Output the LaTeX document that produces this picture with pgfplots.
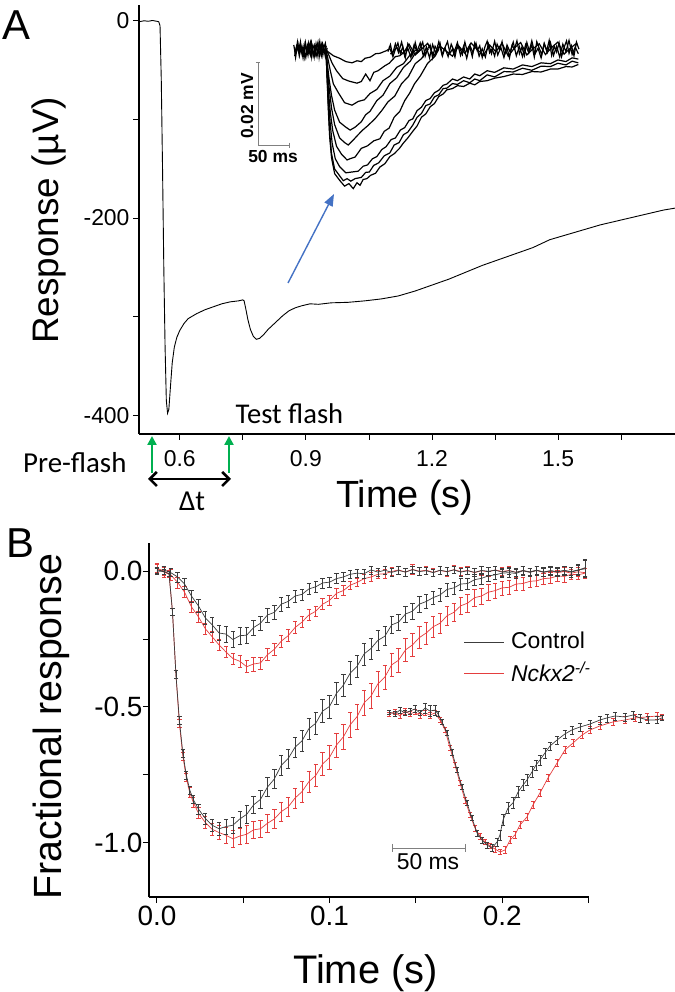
\documentclass[border=0pt]{standalone}
\usepackage{fontspec}
\setmainfont{Liberation Sans}
\newfontfamily\calfont{Carlito}
\usepackage{pgfplots}
\pgfplotsset{compat=1.18}
\usetikzlibrary{arrows.meta}
\definecolor{ctrl}{RGB}{60,60,60}
\definecolor{mred}{RGB}{228,62,62}
\definecolor{fgreen}{RGB}{0,176,80}
\definecolor{abl}{RGB}{68,114,196}
\newcommand{\fsz}[1]{\fontsize{#1}{#1}\selectfont}
\pgfplotsset{
 ebar/.style={line width=0.7bp, #1, error bars/.cd, y dir=both, y explicit,
   error bar style={#1, line width=0.55bp},
   error mark options={#1, rotate=90, mark size=2.2bp, line width=0.55bp}},
 myaxis/.style={scale only axis, axis x line*=bottom, axis y line*=left,
   axis line style={-, line width=1.2bp}, tick align=outside,
   major tick length=6bp, minor tick length=6bp,
   tick style={black, line width=0.9bp},
   /pgf/number format/assume math mode=true},
 inset/.style={scale only axis, hide axis, clip=false},
}
\begin{document}
\begin{tikzpicture}
\useasboundingbox (0,0) rectangle (675bp,992bp);
% ================= Panel A =================
\begin{axis}[myaxis,
  at={(139bp,558bp)}, anchor=south west, width=536bp, height=429bp,
  xmin=0.503, xmax=1.778, ymin=-419, ymax=16,
  xtick={0.6,0.9,1.2,1.5}, xticklabels={0.6,0.9,1.2,1.5},
  minor xtick={0.75,1.05,1.35,1.65},
  ytick={-400,-200,0}, yticklabels={-400,-200,0},
  minor ytick={-300,-100},
  ticklabel style={font=\fsz{23}},
  xticklabel style={yshift=-7bp},
  xlabel={Time (s)}, ylabel={Response (µV)},
  xlabel style={at={(axis description cs:0.496,-0.1725)}, anchor=base, font=\fsz{38}},
  ylabel style={at={(axis description cs:-0.150,0.498)}, anchor=base, font=\fsz{37}},
]
\addplot[black, line width=0.9bp] coordinates {
(0.503,-1) (0.515,0) (0.525,-0.5) (0.535,0.3) (0.545,-0.5) (0.550,-1) (0.553,-5) (0.556,-60)
(0.559,-150) (0.562,-250) (0.565,-330) (0.568,-385) (0.571,-398) (0.574,-394) (0.578,-370)
(0.582,-347) (0.587,-331) (0.593,-321) (0.600,-314) (0.610,-307) (0.620,-302) (0.640,-297)
(0.660,-293) (0.680,-290) (0.700,-287) (0.720,-285) (0.740,-284) (0.750,-283) (0.753,-284)
(0.757,-292) (0.762,-303) (0.768,-313) (0.775,-320) (0.782,-323) (0.790,-322) (0.800,-318)
(0.810,-313) (0.820,-309) (0.830,-305) (0.845,-299) (0.860,-294) (0.875,-291) (0.890,-289)
(0.910,-287) (0.930,-287.5) (0.960,-286) (1.000,-285.5) (1.040,-284) (1.080,-282) (1.120,-279)
(1.160,-274) (1.200,-268) (1.240,-262) (1.280,-255) (1.320,-248) (1.360,-242) (1.400,-236)
(1.440,-230) (1.480,-222) (1.520,-217) (1.560,-212) (1.600,-207) (1.640,-203) (1.680,-199)
(1.720,-195) (1.750,-192) (1.778,-190)
};
\end{axis}
% ---- Inset of panel A (x in ms, y in microvolts) ----
\begin{axis}[inset, at={(290bp,797bp)}, anchor=south west, width=290bp, height=160bp,
  xmin=0, xmax=467.7, ymin=-34.94, ymax=3.61]
\addplot[black, line width=1.2bp] coordinates {
(6,1.2) (9,-0.8) (12,1.9) (15,-1.4) (18,0.6) (21,-1.9) (24,1.4) (27,-0.5) (30,1.7) (33,-1.2)
(36,0.9) (39,-1.7) (42,1.5) (45,-0.7) (48,2.0) (51,-1.3) (54,0.8) (57,-1.6) (60,0.5)};
\addplot[black, line width=1.2bp] coordinates {
(7.5,-1.5) (10.5,0.9) (13.5,-0.4) (16.5,1.6) (19.5,-1.1) (22.5,0.3) (25.5,-1.8) (28.5,1.1)
(31.5,-0.6) (34.5,1.8) (37.5,-1.4) (40.5,0.2) (43.5,-1.6) (46.5,1.2) (49.5,-0.9) (52.5,1.5)
(55.5,-0.5) (58.5,1.0)};
\addplot[black, line width=1.2bp] coordinates {
(7,0.6) (9,-1.8) (11,0.2) (13,1.4) (15,-0.9) (17,1.8) (19,-0.3) (21,0.9) (23,-1.5) (25,1.7)
(27,0.1) (29,-1.3) (31,1.0) (33,1.9) (35,-1.6) (37,0.4) (39,1.2) (41,-1.0) (43,0.6) (45,1.8)
(47,-1.7) (49,0.3) (51,1.4) (53,-1.2) (55,0.7) (57,1.6) (59,-0.8)};
\addplot[black, line width=1.2bp] coordinates {
(160,0.8) (165,-1.2) (170,1.5) (175,-0.6) (180,1.9) (185,-1.5) (190,0.4) (195,-1.8) (200,1.2)
(205,-0.3) (210,1.7) (215,-1.4) (220,0.7) (225,-1.9) (230,1.3) (235,-0.8) (240,2.0) (245,-1.1)
(250,0.5) (255,-1.6) (260,1.4) (265,-0.4) (270,1.8) (275,-1.3) (280,0.9) (285,-2.0) (290,1.1)
(295,-0.6) (300,1.6) (305,-1.5) (310,0.3) (315,-1.7) (320,1.5) (325,-0.9) (330,2.1) (335,-1.2)
(340,0.6) (345,-1.8) (350,1.2) (355,-0.5) (360,1.9) (365,-1.4) (370,0.8) (375,-1.6) (380,1.3)
(385,-0.7) (390,2.2) (395,-1.0) (400,0.4) (405,-1.9) (410,1.6) (415,-0.6) (420,1.8) (425,-1.3)
(430,0.9) (435,-1.7) (440,1.4) (445,-0.4) (450,2.3) (455,-1.1) (460,0.7) (465,-0.9)};
\addplot[black, line width=1.2bp] coordinates {
(162,-1.0) (172,0.6) (182,-0.9) (192,1.4) (202,-1.2) (212,0.2) (222,1.6) (232,-1.4) (242,0.9)
(252,-0.3) (262,-1.5) (272,1.0) (282,-0.8) (292,1.7) (302,0.1) (312,-1.3) (322,1.2) (332,-0.4)
(342,1.6) (352,-1.5) (362,0.5) (372,1.8) (382,-1.2) (392,0.3) (402,1.5) (412,-1.1) (422,0.6)
(432,1.9) (442,-1.0) (452,0.4) (462,1.6)};
\addplot[black, line width=1.2bp] coordinates {
(158,-0.4) (162,1.3) (166,-1.6) (170,0.2) (174,1.7) (178,-0.9) (182,0.8) (186,-1.8) (190,1.5)
(194,0.1) (198,-1.2) (202,1.8) (206,-0.6) (210,0.5) (214,1.9) (218,-1.5) (222,0.3) (226,1.2)
(230,-1.9) (234,0.9) (238,-0.2) (242,1.6) (246,-1.4) (250,0.6) (254,2.0) (258,-0.8) (262,0.2)
(266,-1.7) (270,1.3) (274,0.4) (278,-1.1) (282,1.9) (286,-0.5) (290,0.8) (294,-1.6) (298,1.7)
(302,-0.2) (306,1.0) (310,-1.8) (314,0.6) (318,2.1) (322,-0.7) (326,0.3) (330,-1.5) (334,1.4)
(338,0.0) (342,2.0) (346,-1.2) (350,0.5) (354,-1.9) (358,1.1) (362,0.2) (366,2.2) (370,-0.9)
(374,0.7) (378,-1.4) (382,1.8) (386,-0.3) (390,1.2) (394,-1.7) (398,2.0) (402,0.4) (406,-1.1)
(410,1.5) (414,-0.2) (418,2.3) (422,-1.3) (426,0.9) (430,-0.5) (434,1.7) (438,-1.6) (442,0.6)
(446,2.2) (450,-0.8) (454,1.0) (458,-1.4) (462,1.9) (466,0.2)};
% traces
\addplot[black, line width=1.2bp] coordinates {
(58,0) (62,-0.5) (70,-1.4) (80,-2) (90,-2.8) (100,-3.1) (108,-2.6) (115,-2.8) (121,-2.0)
(130,-1.7) (138,-0.9) (145,-0.8) (155,-0.2) (161,0.3)};
\addplot[black, line width=1.2bp] coordinates {
(58,0) (62,-1) (68,-3.2) (75,-5) (85,-6.9) (95,-7.5) (108,-8) (115,-7.6) (122,-5.8) (129,-7.4)
(135,-5.4) (142,-5.0) (153,-3.8) (160,-3.2) (170,-1.6) (177,-1.4) (189,0.2)};
\addplot[black, line width=1.2bp] coordinates {
(58,0) (61,-2) (65,-5) (70,-8.2) (78,-10.3) (88,-12.7) (100,-13.3) (110,-12.4) (120,-12.0)
(129,-10.5) (140,-9.5) (150,-7.4) (161,-6.3) (172,-4.2) (183,-3.3) (194,-1.1) (205,0.2)};
\addplot[black, line width=1.2bp] coordinates {
(58,0) (60,-3) (63,-7) (67,-11) (72,-14.5) (80,-17.4) (90,-18.6) (97,-19.3) (105,-18.6)
(115,-17.3) (122,-15.6) (129,-14.8) (140,-12.2) (150,-10.9) (161,-8.1) (172,-6.7) (183,-4.2)
(194,-2.7) (202,-0.8) (210,0)};
\addplot[black, line width=1.2bp] coordinates {
(58,0) (60,-4) (63,-9) (67,-14) (72,-18) (80,-21.2) (88,-22.3) (94,-22.9) (102,-21.7)
(110,-20.4) (118,-19.2) (125,-18.3) (137,-16.6) (148,-14.6) (158,-12.5) (169,-11.1) (180,-8.1)
(191,-6.4) (202,-3.3) (212,-2.1) (223,0.2)};
\addplot[black, line width=1.2bp] coordinates {
(58,0) (60,-5) (62,-10) (65,-15) (69,-19.5) (75,-23.2) (83,-25.1) (92,-26.5) (97,-26.2)
(105,-25.8) (115,-23.7) (125,-23.1) (135,-21.9) (145,-21.4) (152,-19.6) (160,-18.8) (168,-16.2)
(177,-14.8) (185,-12.2) (193,-10.4) (201,-8.1) (210,-6.3) (222,-3.2) (234,-1.5) (240,0.2)};
\addplot[black, line width=1.2bp] coordinates {
(58,0) (60,-6) (62,-12) (65,-18) (68,-22.5) (73,-26.2) (80,-28.1) (90,-29.6) (100,-29.4)
(110,-29.2) (118,-28.0) (125,-27.7) (133,-26.2) (140,-25.7) (148,-24.0) (155,-23.3) (163,-21.6)
(170,-21.2) (178,-19.3) (185,-18.7) (192,-17.0) (198,-16.6) (205,-14.6) (212,-13.8) (219,-12.2)
(226,-11.7) (233,-10.3) (240,-9.7) (247,-8.5) (253,-8.2) (262,-7.0) (270,-7.4) (280,-6.5)
(290,-7.0) (298,-5.8) (306,-6.2) (318,-5.0) (330,-5.4) (345,-4.3) (360,-4.6) (375,-3.6)
(390,-4.0) (405,-3.1) (420,-3.3) (432,-2.4) (445,-2.8) (455,-1.9) (465,-2.2)};
\addplot[black, line width=1.2bp] coordinates {
(58,0) (60,-7) (62,-14) (64,-20) (67,-25) (72,-28.7) (80,-30.3) (86,-31.5) (92,-31.0)
(98,-31.6) (105,-31.0) (115,-30.7) (122,-29.5) (128,-29.4) (135,-27.8) (143,-27.2) (152,-25.5)
(161,-24.8) (168,-22.9) (176,-22.3) (183,-20.4) (190,-19.8) (198,-18.1) (205,-16.2) (212,-15.3)
(219,-13.4) (226,-13.0) (233,-11.3) (240,-10.8) (247,-9.3) (253,-9.2) (262,-8.1) (270,-8.3)
(280,-7.4) (290,-7.9) (298,-7.0) (306,-7.4) (318,-6.0) (330,-6.5) (345,-5.2) (360,-5.3)
(375,-4.4) (390,-4.9) (405,-3.9) (420,-4.0) (432,-3.2) (445,-3.6) (455,-2.7) (465,-3.1)};
\addplot[black, line width=1.2bp] coordinates {
(58,0) (60,-7.5) (62,-15) (64,-21) (67,-26) (72,-29.8) (80,-31.4) (88,-32.8) (95,-32.2)
(102,-33.4) (108,-32.0) (113,-32.6) (118,-31.2) (124,-31.0) (130,-30.2) (138,-29.7) (145,-28.2)
(153,-27.4) (161,-25.7) (168,-25.0) (176,-23.8) (183,-22.4) (190,-21.2) (198,-19.6) (205,-18.3)
(212,-16.2) (219,-15.4) (226,-13.7) (233,-12.9) (240,-11.2) (247,-10.6) (253,-9.6) (262,-9.3)
(270,-8.6) (280,-8.8) (290,-8.0) (298,-8.4) (306,-7.6) (318,-7.4) (330,-6.8) (345,-6.4)
(360,-5.8) (375,-5.9) (390,-5.2) (405,-5.3) (420,-4.6) (432,-4.6) (445,-4.0) (455,-4.1) (465,-3.5)};
% scale bars
\draw[gray, line width=0.9bp] (axis cs:-51.6,-2.9) -- (axis cs:-51.6,-22.9) -- (axis cs:-1.6,-22.9);
\draw[gray, line width=0.9bp] (axis cs:-55,-2.9) -- (axis cs:-48.2,-2.9);
\draw[gray, line width=0.9bp] (axis cs:-1.6,-22.3) -- (axis cs:-1.6,-23.5);
\end{axis}
% ================= Panel B =================
\begin{axis}[myaxis,
  at={(149bp,95bp)}, anchor=south west, width=439.5bp, height=354bp,
  xmin=-0.0046, xmax=0.25, ymin=-1.199, ymax=0.103,
  xtick={0,0.1,0.2}, xticklabels={0.0,0.1,0.2}, minor xtick={0.05,0.15,0.25},
  ytick={-1,-0.5,0}, yticklabels={-1.0,-0.5,0.0}, minor ytick={-0.75,-0.25},
  ticklabel style={font=\fsz{28}},
  yticklabel style={xshift=3bp},
  xlabel={Time (s)}, ylabel={Fractional response},
  xlabel style={at={(axis description cs:0.4926,-0.243)}, anchor=base, font=\fsz{40}},
  ylabel style={at={(axis description cs:-0.198,0.4816)}, anchor=base, font=\fsz{39.5}},
]
% Nckx2 small
\addplot[ebar=mred] table[x index=0, y index=1, y error index=2] {
0.000 0.008 0.02
0.004 -0.004 0.02
0.008 -0.014 0.02
0.012 -0.042 0.02
0.016 -0.078 0.02
0.020 -0.132 0.02
0.024 -0.168 0.02
0.028 -0.212 0.02
0.032 -0.242 0.02
0.036 -0.272 0.02
0.040 -0.298 0.02
0.044 -0.322 0.02
0.048 -0.332 0.022
0.052 -0.352 0.022
0.056 -0.342 0.025
0.060 -0.338 0.022
0.064 -0.308 0.022
0.068 -0.288 0.022
0.072 -0.258 0.022
0.076 -0.238 0.022
0.080 -0.208 0.022
0.084 -0.188 0.02
0.088 -0.162 0.02
0.092 -0.148 0.02
0.096 -0.122 0.02
0.100 -0.108 0.018
0.104 -0.082 0.018
0.108 -0.072 0.018
0.112 -0.052 0.016
0.116 -0.042 0.016
0.120 -0.028 0.016
0.124 -0.022 0.016
0.128 -0.012 0.015
0.132 -0.010 0.015
0.136 -0.002 0.015
0.140 0.004 0.015
0.144 -0.004 0.015
0.148 0.006 0.018
0.152 -0.001 0.015
0.156 0.003 0.015
0.160 -0.005 0.015
0.164 0.002 0.015
0.168 -0.003 0.015
0.172 0.005 0.015
0.176 -0.002 0.015
0.180 0.002 0.015
0.184 -0.006 0.015
0.188 0.001 0.015
0.192 -0.003 0.015
0.196 0.004 0.015
0.200 -0.002 0.015
0.204 0.002 0.015
0.208 -0.005 0.015
0.212 0.001 0.015
0.216 -0.004 0.015
0.220 0.002 0.015
0.224 -0.005 0.015
0.228 -0.001 0.015
0.232 -0.006 0.015
0.236 -0.002 0.015
0.240 -0.008 0.015
0.244 -0.003 0.015
0.248 -0.006 0.015
};
% Nckx2 large
\addplot[ebar=mred] table[x index=0, y index=1, y error index=2] {
0.000 0.010 0.015
0.004 0.000 0.015
0.007 -0.010 0.012
0.009 -0.150 0.012
0.011 -0.380 0.015
0.013 -0.560 0.015
0.015 -0.680 0.015
0.017 -0.760 0.015
0.019 -0.815 0.018
0.021 -0.850 0.018
0.024 -0.890 0.02
0.028 -0.925 0.022
0.032 -0.950 0.022
0.036 -0.962 0.025
0.040 -0.972 0.028
0.044 -0.985 0.03
0.048 -0.975 0.03
0.052 -0.968 0.032
0.056 -0.952 0.032
0.060 -0.948 0.032
0.064 -0.928 0.034
0.068 -0.912 0.034
0.072 -0.885 0.035
0.076 -0.868 0.035
0.080 -0.835 0.036
0.084 -0.812 0.038
0.088 -0.775 0.04
0.092 -0.752 0.04
0.096 -0.710 0.042
0.100 -0.685 0.044
0.104 -0.640 0.045
0.108 -0.610 0.046
0.112 -0.565 0.046
0.116 -0.535 0.046
0.120 -0.485 0.046
0.124 -0.460 0.046
0.128 -0.415 0.045
0.132 -0.390 0.045
0.136 -0.345 0.044
0.140 -0.328 0.044
0.144 -0.290 0.042
0.148 -0.272 0.042
0.152 -0.245 0.04
0.156 -0.228 0.04
0.160 -0.205 0.038
0.164 -0.192 0.036
0.168 -0.165 0.035
0.172 -0.152 0.034
0.176 -0.128 0.032
0.180 -0.118 0.032
0.184 -0.098 0.03
0.188 -0.092 0.03
0.192 -0.078 0.028
0.196 -0.072 0.028
0.200 -0.062 0.026
0.204 -0.060 0.025
0.208 -0.048 0.024
0.212 -0.046 0.024
0.216 -0.038 0.022
0.220 -0.036 0.022
0.224 -0.028 0.02
0.228 -0.026 0.02
0.232 -0.018 0.02
0.236 -0.020 0.02
0.240 -0.012 0.018
0.244 -0.014 0.018
0.248 -0.008 0.018
};
% Control small
\addplot[ebar=ctrl] table[x index=0, y index=1, y error index=2] {
0.000 0.000 0.012
0.004 0.004 0.015
0.008 -0.006 0.015
0.012 -0.022 0.018
0.016 -0.048 0.02
0.020 -0.092 0.022
0.024 -0.128 0.025
0.028 -0.172 0.025
0.032 -0.198 0.028
0.036 -0.228 0.028
0.040 -0.232 0.03
0.044 -0.252 0.03
0.048 -0.238 0.03
0.052 -0.236 0.028
0.056 -0.208 0.028
0.060 -0.192 0.025
0.064 -0.162 0.025
0.068 -0.152 0.025
0.072 -0.122 0.025
0.076 -0.112 0.022
0.080 -0.092 0.022
0.084 -0.086 0.02
0.088 -0.066 0.02
0.092 -0.058 0.02
0.096 -0.044 0.018
0.100 -0.041 0.018
0.104 -0.028 0.018
0.108 -0.022 0.016
0.112 -0.012 0.016
0.116 -0.008 0.016
0.120 -0.010 0.015
0.124 0.004 0.015
0.128 -0.004 0.015
0.132 0.003 0.014
0.136 -0.005 0.014
0.140 0.002 0.014
0.144 -0.004 0.014
0.148 0.005 0.014
0.152 -0.002 0.014
0.156 0.001 0.014
0.160 -0.006 0.014
0.164 0.003 0.014
0.168 -0.002 0.014
0.172 0.004 0.014
0.176 -0.004 0.014
0.180 0.001 0.014
0.184 -0.005 0.014
0.188 0.002 0.014
0.192 -0.001 0.014
0.196 0.003 0.014
0.200 -0.004 0.014
0.204 0.001 0.014
0.208 -0.005 0.014
0.212 0.002 0.014
0.216 -0.003 0.014
0.220 0.003 0.014
0.224 -0.004 0.014
0.228 0.001 0.014
0.232 -0.003 0.014
0.236 0.002 0.014
0.240 -0.002 0.014
0.244 0.004 0.016
0.248 0.008 0.03
};
% Control large
\addplot[ebar=ctrl] table[x index=0, y index=1, y error index=2] {
0.000 0.000 0.01
0.004 -0.002 0.01
0.007 -0.010 0.01
0.009 -0.150 0.012
0.011 -0.380 0.015
0.013 -0.550 0.015
0.015 -0.670 0.015
0.017 -0.750 0.015
0.019 -0.805 0.015
0.021 -0.840 0.015
0.024 -0.875 0.018
0.028 -0.910 0.02
0.032 -0.935 0.022
0.036 -0.948 0.025
0.040 -0.940 0.028
0.044 -0.935 0.03
0.048 -0.912 0.03
0.052 -0.895 0.032
0.056 -0.860 0.032
0.060 -0.840 0.032
0.064 -0.795 0.035
0.068 -0.765 0.035
0.072 -0.715 0.036
0.076 -0.690 0.036
0.080 -0.648 0.038
0.084 -0.625 0.038
0.088 -0.580 0.04
0.092 -0.560 0.04
0.096 -0.515 0.042
0.100 -0.498 0.042
0.104 -0.450 0.042
0.108 -0.420 0.042
0.112 -0.375 0.042
0.116 -0.350 0.04
0.120 -0.305 0.04
0.124 -0.285 0.038
0.128 -0.255 0.036
0.132 -0.240 0.035
0.136 -0.198 0.032
0.140 -0.188 0.03
0.144 -0.158 0.03
0.148 -0.148 0.028
0.152 -0.122 0.028
0.156 -0.112 0.026
0.160 -0.098 0.025
0.164 -0.088 0.025
0.168 -0.068 0.024
0.172 -0.062 0.022
0.176 -0.048 0.022
0.180 -0.046 0.02
0.184 -0.032 0.02
0.188 -0.027 0.02
0.192 -0.018 0.018
0.196 -0.014 0.018
0.200 -0.008 0.016
0.204 -0.006 0.016
0.208 -0.009 0.016
0.212 0.001 0.016
0.216 -0.005 0.016
0.220 0.002 0.016
0.224 -0.004 0.016
0.228 0.001 0.016
0.232 -0.003 0.016
0.236 0.002 0.016
0.240 -0.004 0.018
0.244 0.003 0.02
0.248 0.012 0.03
};
\end{axis}
% ---- Inset of panel B (x in ms, fractional y) ----
\begin{axis}[inset, at={(389bp,135bp)}, anchor=south west, width=273bp, height=152bp,
  xmin=0, xmax=187, ymin=-1.0507, ymax=0.0507]
\addplot[ebar=mred] table[x index=0, y index=1, y error index=2] {
0 -0.014 0.015
4.1 0.000 0.02
7.5 -0.029 0.02
11 0.007 0.02
14.4 -0.014 0.02
17.8 0.000 0.02
21.2 -0.029 0.02
24.7 -0.007 0.02
28.1 -0.022 0.02
31.5 -0.007 0.02
34.9 -0.058 0.02
38.4 -0.130 0.02
41.8 -0.261 0.02
45.2 -0.384 0.02
48.6 -0.514 0.02
52.1 -0.638 0.02
55.5 -0.746 0.02
58.9 -0.841 0.02
62.3 -0.899 0.02
65.8 -0.942 0.02
69.2 -0.971 0.02
72.6 -0.993 0.02
76 -1.014 0.02
79.5 -1.000 0.025
82.9 -0.928 0.025
86.3 -0.891 0.025
89.7 -0.819 0.025
94.5 -0.761 0.025
98.6 -0.674 0.025
103.4 -0.587 0.025
108.9 -0.478 0.025
115.1 -0.370 0.025
120.5 -0.275 0.025
126 -0.225 0.025
132.2 -0.167 0.025
137.7 -0.130 0.025
144.5 -0.101 0.025
153.4 -0.072 0.025
161.6 -0.058 0.025
168.5 -0.043 0.025
176.7 -0.036 0.025
183.6 -0.029 0.025
187 -0.036 0.02
};
\addplot[ebar=ctrl] table[x index=0, y index=1, y error index=2] {
0 0.000 0.015
4.1 -0.014 0.02
7.5 0.014 0.02
11 -0.007 0.02
14.4 0.007 0.02
17.8 0.022 0.025
21.2 -0.007 0.02
24.7 0.029 0.035
28.1 0.007 0.04
31.5 0.014 0.035
33.6 -0.014 0.02
36.3 -0.072 0.02
39.7 -0.152 0.02
43.2 -0.290 0.02
46.6 -0.420 0.02
50 -0.543 0.02
53.4 -0.659 0.02
56.8 -0.768 0.02
60.3 -0.877 0.02
63.7 -0.928 0.02
67.1 -0.964 0.02
70.5 -0.986 0.025
74 -0.942 0.03
76 -0.891 0.035
78.1 -0.783 0.04
81.5 -0.696 0.04
84.9 -0.659 0.04
88.4 -0.580 0.04
91.8 -0.529 0.04
94.5 -0.493 0.04
97.9 -0.435 0.04
100.7 -0.384 0.035
103.4 -0.348 0.035
106.8 -0.297 0.035
110.3 -0.246 0.03
115.1 -0.203 0.03
120.5 -0.159 0.03
125.3 -0.130 0.03
130.8 -0.109 0.03
137.7 -0.087 0.03
144.5 -0.058 0.03
149.3 -0.043 0.03
154.8 -0.029 0.03
161.6 -0.036 0.03
167.1 -0.022 0.03
171.9 -0.043 0.03
177.4 -0.058 0.025
183.6 -0.058 0.025
187 -0.043 0.02
};
% 50 ms scale bar
\draw[gray, line width=0.9bp] (axis cs:2.05,-0.9855) -- (axis cs:52.05,-0.9855);
\draw[gray, line width=0.9bp] (axis cs:2.05,-0.955) -- (axis cs:2.05,-1.016);
\draw[gray, line width=0.9bp] (axis cs:52.05,-0.955) -- (axis cs:52.05,-1.016);
\end{axis}
% ================= Annotations =================
\node[anchor=base west, inner sep=0pt, font=\fsz{42}] at (2bp,952bp) {A};
\node[anchor=base west, inner sep=0pt, font=\fsz{42}] at (6bp,434bp) {B};
\node[anchor=base, inner sep=0pt, font=\calfont\fsz{28.7}] at (289.5bp,568bp) {Test flash};
\node[anchor=base west, inner sep=0pt, font=\calfont\fsz{29}] at (23bp,519bp) {Pre-flash};
\node[anchor=base, inner sep=0pt, font=\calfont\fsz{29}] at (192bp,481bp) {Δt};
\draw[fgreen, line width=2.6bp, -{Triangle[length=9bp,width=9bp]}] (152bp,519bp) -- (152bp,556bp);
\draw[fgreen, line width=2.6bp, -{Triangle[length=9bp,width=9bp]}] (229bp,519bp) -- (229bp,556bp);
\draw[black, line width=2.6bp, {Straight Barb[length=7bp,width=14bp]}-{Straight Barb[length=7bp,width=14bp]}] (148bp,513bp) -- (231bp,513bp);
\draw[abl, line width=1.4bp, -{Triangle[length=12bp,width=9bp]}] (288bp,709bp) -- (334bp,798bp);
\node[anchor=base, rotate=90, inner sep=0pt, font=\bfseries\fsz{17.5}] at (253bp,886bp) {0.02 mV};
\node[anchor=base, inner sep=0pt, font=\bfseries\fsz{17.5}] at (273bp,829bp) {50 ms};
% legend of panel B
\draw[ctrl, line width=0.9bp] (464bp,350bp) -- (504bp,350bp);
\draw[mred, line width=0.9bp] (464bp,319bp) -- (504bp,319bp);
\node[anchor=base west, inner sep=0pt, font=\fsz{23}] at (511bp,343bp) {Control};
\node[anchor=base west, inner sep=0pt, font=\fsz{23}] at (511bp,310bp) {\textit{Nckx2}\textsuperscript{\textit{-/-}}};
\node[anchor=base, inner sep=0pt, font=\fsz{23}] at (428bp,122bp) {50 ms};
\end{tikzpicture}
\end{document}
